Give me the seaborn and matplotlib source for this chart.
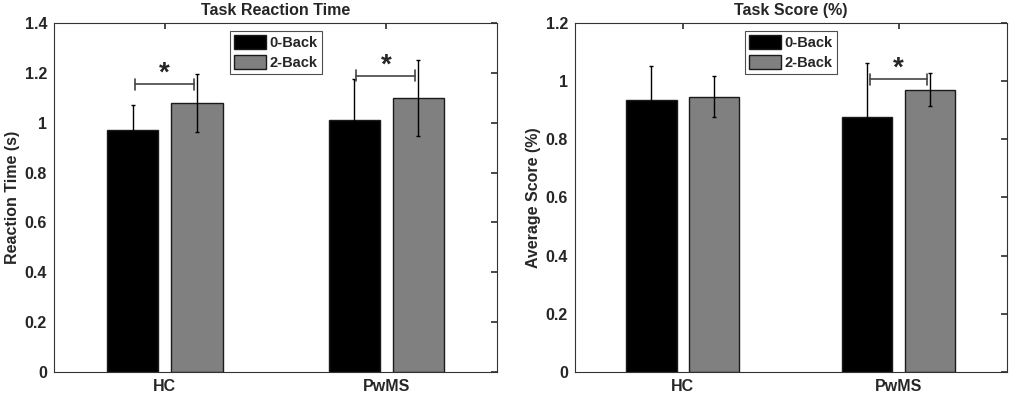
import pandas as pd
import seaborn as sns
import matplotlib.pyplot as plt
from matplotlib.ticker import FuncFormatter

groups = ['HC', 'PwMS']
conditions = ['0-Back', '2-Back']

# reaction time (s)
rt_0back = [0.97, 1.01]
rt_2back = [1.08, 1.10]
rt_0back_err = [0.10, 0.165]
rt_2back_err = [0.117, 0.152]
rt_sig = [1.154, 1.189]      # bracket height per group, None = no star

# score
score_0back = [0.935, 0.877]
score_2back = [0.947, 0.971]
score_0back_err = [0.118, 0.184]
score_2back_err = [0.070, 0.058]
score_sig = [None, 1.007]

bar_colors = ['#000000', '#808080']


def make_frame(v0, v2, e0, e2):
    rows = []
    for i, g in enumerate(groups):
        rows.append({'group': g, 'cond': conditions[0], 'val': v0[i], 'err': e0[i]})
        rows.append({'group': g, 'cond': conditions[1], 'val': v2[i], 'err': e2[i]})
    return pd.DataFrame(rows)


def draw_panel(ax, data, sig, title, ylabel, ymax, ystep):
    sns.barplot(data=data, x='group', y='val', hue='cond', order=groups,
                hue_order=conditions, palette=bar_colors, saturation=1,
                width=0.58, gap=0.2, errorbar=None, edgecolor='#1a1a1a',
                linewidth=1, ax=ax)

    # error bars at the bar centres seaborn placed
    centers = {}
    bar_sets = list(ax.containers)
    for k, cont in enumerate(bar_sets):
        sub = data[data['cond'] == conditions[k]].set_index('group').loc[groups]
        for i, rect in enumerate(cont):
            cx = rect.get_x() + rect.get_width() / 2
            centers[(k, i)] = cx
            ax.errorbar(cx, sub['val'].iloc[i], yerr=sub['err'].iloc[i], fmt='none',
                        ecolor='black', elinewidth=1, capsize=1.5, capthick=1, zorder=5)

    # significance brackets
    tick_h = ymax * 0.016
    for i, h in enumerate(sig):
        if h is None:
            continue
        x0, x1 = centers[(0, i)] + 0.01, centers[(1, i)] - 0.015
        ax.plot([x0, x1], [h, h], color='#444444', lw=1.2, zorder=6)
        ax.plot([x0, x0], [h - tick_h, h + tick_h], color='#444444', lw=1.2, zorder=6)
        ax.plot([x1, x1], [h - tick_h, h + tick_h], color='#444444', lw=1.2, zorder=6)
        ax.text((x0 + x1) / 2, h - ymax * 0.008, '*', ha='center', va='bottom',
                fontsize=20, fontweight='bold')

    ax.set_xlim(-0.5, 1.5)
    ax.set_ylim(0, ymax)
    ax.set_yticks([round(ystep * j, 2) for j in range(int(round(ymax / ystep)) + 1)])
    ax.yaxis.set_major_formatter(FuncFormatter(lambda v, p: '%g' % v))
    ax.set_title(title, fontsize=11.5, fontweight='bold', pad=6)
    ax.set_ylabel(ylabel, fontsize=11.5, fontweight='bold', labelpad=3)
    ax.set_xlabel('')
    ax.tick_params(direction='in', top=True, right=True, length=4, labelsize=11.5,
                   color='#333333', pad=5)
    for lab in ax.get_xticklabels() + ax.get_yticklabels():
        lab.set_fontweight('bold')
    for sp in ax.spines.values():
        sp.set_visible(True)
        sp.set_color('#333333')
        sp.set_linewidth(0.8)

    leg = ax.legend(loc='upper center', frameon=True, fancybox=False,
                    edgecolor='#222222', handlelength=2.2, handleheight=1.1,
                    handletextpad=0.2, labelspacing=0.3, borderpad=0.3,
                    borderaxespad=0.55, prop={'weight': 'bold', 'size': 10.5})
    leg.get_frame().set_linewidth(0.8)


sns.set_theme(style='white')
plt.rcParams['font.family'] = ['Liberation Sans', 'DejaVu Sans']

fig = plt.figure(figsize=(10.21, 4.0), dpi=100)
ax1 = fig.add_axes([0.0529, 0.07, 0.434, 0.8725])
ax2 = fig.add_axes([0.563, 0.07, 0.423, 0.8725])

draw_panel(ax1, make_frame(rt_0back, rt_2back, rt_0back_err, rt_2back_err), rt_sig,
           'Task Reaction Time', 'Reaction Time (s)', 1.4, 0.2)
draw_panel(ax2, make_frame(score_0back, score_2back, score_0back_err, score_2back_err),
           score_sig, 'Task Score (%)', 'Average Score (%)', 1.2, 0.2)

fig.savefig('out.png', dpi=100)
